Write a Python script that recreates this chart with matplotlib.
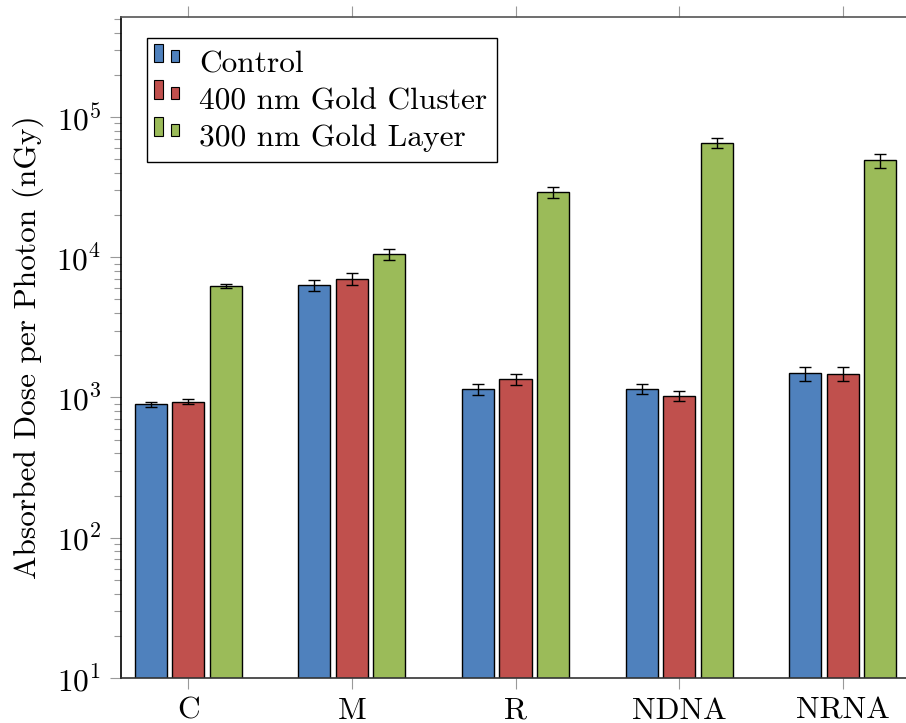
import matplotlib
matplotlib.use("Agg")
import matplotlib.pyplot as plt
from matplotlib.patches import Rectangle
from matplotlib.legend_handler import HandlerBase
import numpy as np

categories = ["C", "M", "R", "NDNA", "NRNA"]
series_names = ["Control", "400 nm Gold Cluster", "300 nm Gold Layer"]
control = [895, 6300, 1140, 1155, 1490]
control_err = [35, 580, 100, 100, 170]
cluster = [933, 7000, 1350, 1025, 1470]
cluster_err = [35, 690, 120, 85, 170]
layer = [6240, 10500, 29000, 65000, 49000]
layer_err = [240, 1000, 2500, 5300, 5600]
colors = ["#4F81BD", "#C0504D", "#9BBB59"]

plt.rcParams["font.family"] = ["cmr10", "DejaVu Serif"]
plt.rcParams["mathtext.fontset"] = "cm"
plt.rcParams["axes.formatter.use_mathtext"] = True
plt.rcParams["axes.unicode_minus"] = False

FS = 22.6
W, H = 906, 723
fig = plt.figure(figsize=(W / 100, H / 100), dpi=100)
ax = fig.add_axes([121 / W, 1 - 678 / H, 789 / W, 661 / H])

x = np.arange(len(categories))
offset = 0.229
width = 0.196
data = [(control, control_err), (cluster, cluster_err), (layer, layer_err)]
for i, (vals, errs) in enumerate(data):
    ax.bar(x + (i - 1) * offset, vals, width, color=colors[i], edgecolor="black",
           linewidth=1.0, label=series_names[i], zorder=2)
    ax.errorbar(x + (i - 1) * offset, vals, yerr=errs, fmt="none", ecolor="black",
                elinewidth=1.0, capsize=4, capthick=1.0, zorder=3)

ax.set_yscale("log")
ax.set_ylim(10, 5.16e5)
ax.set_xlim(-0.41, 4.41)
ax.set_xticks(x)
ax.set_xticklabels(categories, fontsize=FS)
ax.tick_params(axis="x", which="both", direction="out", top=True, bottom=True,
               labeltop=False, length=8, width=0.8, color="#999999", pad=6)
ax.tick_params(axis="y", which="major", direction="out", length=8, width=0.8,
               color="#999999", labelsize=FS, pad=6)
ax.tick_params(axis="y", which="minor", direction="out", length=5, width=0.8,
               color="#999999")
ax.yaxis.set_minor_locator(matplotlib.ticker.LogLocator(base=10, subs=np.arange(2, 10)))
ax.yaxis.set_minor_formatter(matplotlib.ticker.NullFormatter())
ax.set_ylabel("Absorbed Dose per Photon (nGy)", fontsize=FS, labelpad=9)

for side in ["left", "bottom", "top", "right"]:
    ax.spines[side].set_linewidth(1.2)
ax.spines["left"].set_color("black")
ax.spines["bottom"].set_color("#333333")
ax.spines["top"].set_color("#555555")


class TwoBarHandler(HandlerBase):
    """Legend key drawn as a tall and a short bar side by side."""
    def create_artists(self, legend, orig_handle, xdescent, ydescent, width,
                       height, fontsize, trans):
        fc = orig_handle.get_facecolor()
        y0 = 0.32 * fontsize
        r1 = Rectangle((-xdescent, y0), 0.29 * fontsize, 0.6 * fontsize,
                       facecolor=fc, edgecolor="black", linewidth=0.8,
                       transform=trans)
        r2 = Rectangle((-xdescent + 0.54 * fontsize, y0), 0.26 * fontsize,
                       0.38 * fontsize, facecolor=fc, edgecolor="black",
                       linewidth=0.8, transform=trans)
        return [r1, r2]


# legend frame
frame = Rectangle((147 / W, 1 - 162 / H), 350 / W, 124 / H,
                  transform=fig.transFigure, facecolor="white",
                  edgecolor="black", linewidth=1.0, zorder=4, clip_on=False)
ax.add_patch(frame)

handles, labels = ax.get_legend_handles_labels()
bar_handles = [h.patches[0] for h in handles]
leg = ax.legend(bar_handles, labels, loc="upper left",
                bbox_to_anchor=(154 / W, 1 - 50.5 / H), bbox_transform=fig.transFigure,
                fontsize=FS, frameon=False, borderpad=0, labelspacing=0.28,
                handlelength=0.8, handletextpad=0.63, borderaxespad=0,
                handler_map={Rectangle: TwoBarHandler()})
leg.set_zorder(5)

fig.savefig("out.png", dpi=100)
